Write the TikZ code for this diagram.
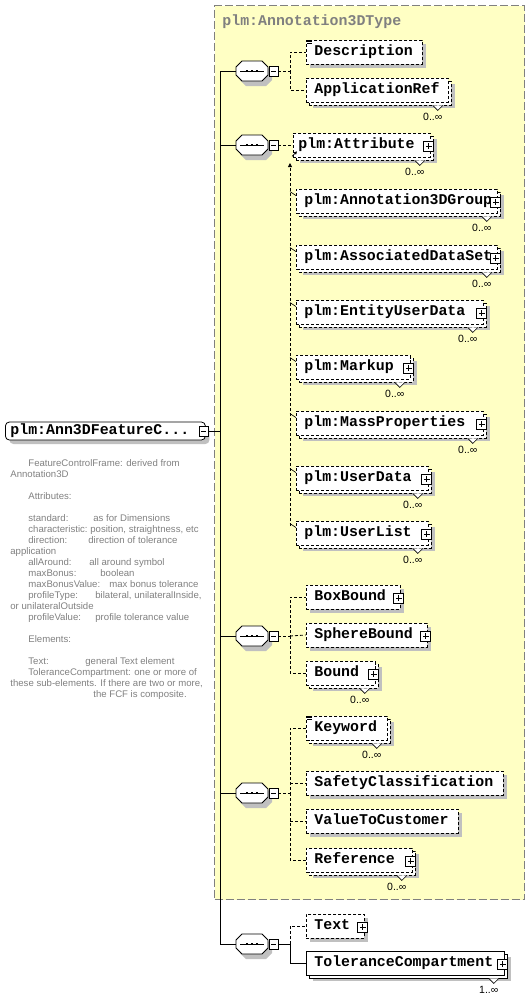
\documentclass[tikz,border=0pt]{standalone}
\usepackage{fontspec}
\setmainfont{Liberation Sans}
\newfontfamily\elemfont{Liberation Mono}
\usetikzlibrary{shadows,arrows.meta,calc,positioning}

\definecolor{typeyellow}{RGB}{255,255,196}
\definecolor{typegray}{RGB}{128,128,128}
\definecolor{shadowgray}{RGB}{192,192,192}

\tikzset{
    seq/.pic={
        \fill[shadowgray,shift={(4,5)}] (-16,-4) -- (-10,-10) -- (10,-10) -- (16,-4) -- (16,4) -- (10,10) -- (-10,10) -- (-16,4) -- cycle;
        \draw[fill=white] (-16,-4) -- (-10,-10) -- (10,-10) -- (16,-4) -- (16,4) -- (10,10) -- (-10,10) -- (-16,4) -- cycle;
        \draw (-12,0) -- (12,0);
        \foreach \d in {-5,0,5} \fill (\d-1.3,-1.3) rectangle (\d+1.3,1.3);
        \draw[fill=white] (17,-5) rectangle (26,5);
        \draw (19,0) -- (24,0);
        \coordinate (-in) at (-16,0);
        \coordinate (-out) at (26,0);
    }
}

\begin{document}
\begin{tikzpicture}[x=1pt,y=-1pt,line width=0.8pt,
    elem/.style={draw, fill=white, anchor=west, font={\fontsize{14.9}{16}\elemfont\bfseries},
        inner xsep=8pt, inner ysep=0pt, minimum height=24pt, text height=9pt, text depth=3pt},
    opt/.style={elem, dash pattern=on 3pt off 2pt},
    req/.style={elem, solid},
    single/.style={drop shadow={shadow xshift=4pt, shadow yshift=-4pt, fill=shadowgray, draw=none, opacity=1}},
    stack/.style={drop shadow={shadow xshift=7pt, shadow yshift=-6pt, fill=shadowgray, draw=none, opacity=1},
        copy shadow={shadow xshift=3pt, shadow yshift=-3pt, fill=white, draw=black, #1}},
    stack/.default={dash pattern=on 3pt off 2pt},
    optline/.style={dash pattern=on 3pt off 2pt},
    plusbox/.style={draw, solid, fill=white, minimum size=10pt, inner sep=0pt,
        path picture={\draw ([yshift=-2pt]path picture bounding box.north) -- ([yshift=2pt]path picture bounding box.south)
            ([xshift=2pt]path picture bounding box.west) -- ([xshift=-2pt]path picture bounding box.east);}},
    minusbox/.style={draw, solid, fill=white, minimum width=9pt, minimum height=10pt, inner sep=0pt,
        path picture={\draw ([xshift=2pt]path picture bounding box.west) -- ([xshift=-2pt]path picture bounding box.east);}},
    mult/.style={font=\fontsize{10.5}{12}\selectfont, inner sep=0pt},
    note/.style={font=\fontsize{9.6}{11}\selectfont, text=typegray, align=left, inner sep=0pt, anchor=north west}]

    \useasboundingbox (0,0) rectangle (530,999);

    % complex type
    \node[draw=typegray, fill=typeyellow, dash pattern=on 8pt off 3pt, line width=1pt, anchor=north west,
        minimum width=310pt, minimum height=894pt, inner sep=0pt] (typebg) at (214,5) {};
    \node[anchor=base west, inner sep=0pt, text=typegray, font={\fontsize{14.9}{16}\elemfont\bfseries}] (typename) at (222,25) {plm:Annotation3DType};

    % root element
    \node[elem, rounded corners=4pt, inner xsep=5pt, text width=190pt, minimum height=18pt,
        drop shadow={shadow xshift=4pt, shadow yshift=-4pt, fill=shadowgray, draw=none, opacity=1}] (root) at (5,431) {plm:Ann3DFeatureC...};
    \node[minusbox] (root-minus) at ($(root.east)+(-2,0)$) {};

    \node[note] (rootdoc) at (10,459) {%
        \hspace*{18pt}FeatureControlFrame: derived from\\
        Annotation3D\\[11pt]
        \hspace*{18pt}Attributes:\\[11pt]
        \hspace*{18pt}\makebox[65pt][l]{standard:}as for Dimensions\\
        \hspace*{18pt}\makebox[62pt][l]{characteristic:}position, straightness, etc\\
        \hspace*{18pt}\makebox[60pt][l]{direction:}direction of tolerance\\
        application\\
        \hspace*{18pt}\makebox[61pt][l]{allAround:}all around symbol\\
        \hspace*{18pt}\makebox[72pt][l]{maxBonus:}boolean\\
        \hspace*{18pt}\makebox[81pt][l]{maxBonusValue:}max bonus tolerance\\
        \hspace*{18pt}\makebox[67pt][l]{profileType:}bilateral, unilateralInside,\\
        or unilateralOutside\\
        \hspace*{18pt}\makebox[67pt][l]{profileValue:}profile tolerance value\\[11pt]
        \hspace*{18pt}Elements:\\[11pt]
        \hspace*{18pt}\makebox[57pt][l]{Text:}general Text element\\
        \hspace*{18pt}ToleranceCompartment: one or more of\\
        these sub-elements. If there are two or more,\\
        \hspace*{83pt}the FCF is composite.};

    % sequences
    \pic (seq1) at (252,71) {seq};
    \pic (seq2) at (252,145) {seq};
    \pic (seq3) at (252,636) {seq};
    \pic (seq4) at (252,793) {seq};
    \pic (seq5) at (252,944) {seq};

    \coordinate (trunk) at (220,0);
    \coordinate (branch) at (290,0);

    % elements
    \node[opt, single, text width=100pt] (desc) at (306,52) {Description};
    \node[opt, stack, text width=126pt] (appref) at (306,90) {ApplicationRef};

    \node[opt, stack, inner xsep=5pt, text width=127pt] (attr) at (293,145) {plm:Attribute};
    \node[opt, stack, text width=185pt] (a3dgroup) at (296,201) {plm:Annotation3DGroup};
    \node[opt, stack, text width=185pt] (assocds) at (296,257) {plm:AssociatedDataSet};
    \node[opt, stack, text width=171pt] (entity) at (296,312) {plm:EntityUserData};
    \node[opt, stack, text width=98pt] (markup) at (296,367) {plm:Markup};
    \node[opt, stack, text width=171pt] (massprop) at (296,423) {plm:MassProperties};
    \node[opt, stack, text width=116pt] (userdata) at (296,478) {plm:UserData};
    \node[opt, stack, text width=116pt] (userlist) at (296,533) {plm:UserList};

    \node[opt, single, text width=78pt] (boxbound) at (306,597) {BoxBound};
    \node[opt, single, text width=105pt] (spherebound) at (306,635) {SphereBound};
    \node[opt, stack, text width=53pt] (bound) at (306,673) {Bound};

    \node[opt, stack, text width=65pt] (keyword) at (306,728) {Keyword};
    \node[opt, single, text width=181pt] (safety) at (306,783) {SafetyClassification};
    \node[opt, single, text width=136pt] (valuecust) at (306,821) {ValueToCustomer};
    \node[opt, stack, text width=90pt] (reference) at (306,860) {Reference};

    \node[opt, single, text width=42pt] (text) at (306,926) {Text};
    \node[req, stack=solid, text width=182pt] (tolcomp) at (306,963) {ToleranceCompartment};

    \foreach \e in {desc,keyword}
        \draw[line width=0.6pt] foreach \k in {0.5,2,3.5} {($(\e.north west)+(1,\k)$) -- ++(5,0)};

    \foreach \e/\lo in {appref/0,attr/0,a3dgroup/0,assocds/0,entity/0,markup/0,massprop/0,userdata/0,userlist/0,bound/0,keyword/0,reference/0,tolcomp/1} {
        \draw[fill=white, line width=0.6pt] ($(\e.south east)+(-16,3)$) -- ($(\e.south east)+(-11,8)$) -- ($(\e.south east)+(-6,3)$);
        \node[mult] (\e-mult) at ($(\e.south east)+(-16,14)$) {\lo..∞};
    }

    \foreach \e in {attr,a3dgroup,assocds,entity,markup,massprop,userdata,userlist,boxbound,spherebound,bound,reference,text,tolcomp}
        \node[plusbox] (\e-plus) at ($(\e.east)+(-2,1)$) {};

    % connectors
    \draw (root-minus.east) -- (trunk |- root-minus.east);
    \draw (seq1-in) -| (trunk |- seq5-in) -- (seq5-in);
    \foreach \s in {seq2,seq3,seq4}
        \draw (trunk |- \s-in) -- (\s-in);

    \draw[optline] (seq1-out) -- (branch |- seq1-out) |- (desc.west);
    \draw[optline] (branch |- seq1-out) |- (appref.west);

    \draw[optline] (seq2-out) -- (attr.west);
    \coordinate (subst-top) at (290,163);
    \coordinate (subst-bot) at (290,526);
    \draw[optline, -{Triangle[length=4pt,width=4pt]}] (subst-bot) -- (subst-top);
    \draw[line width=0.6pt, -{Triangle[length=3pt,width=3pt]}] ($(attr.south west)+(-1,-1)$) -- ($(attr.south west)+(4,-6)$);
    \foreach \e in {a3dgroup,assocds,entity,markup,massprop,userdata,userlist}
        \draw[line width=0.6pt] ($(\e.north west)+(-6,3)$) -- ($(\e.north west)+(0,7)$);

    \draw[optline] (seq3-out) -- (branch |- seq3-out) |- (boxbound.west);
    \draw[optline] (branch |- seq3-out) |- (bound.west);
    \draw[optline] (branch |- seq3-out) -- (spherebound.west);

    \draw[optline] (seq4-out) -- (branch |- seq4-out) |- (keyword.west);
    \draw[optline] (branch |- seq4-out) |- (reference.west);
    \draw[optline] (branch |- safety.west) -- (safety.west);
    \draw[optline] (branch |- valuecust.west) -- (valuecust.west);

    \draw (seq5-out) -- (branch |- seq5-out) |- (tolcomp.west);
    \draw[optline] (branch |- seq5-out) |- (text.west);

\end{tikzpicture}
\end{document}
